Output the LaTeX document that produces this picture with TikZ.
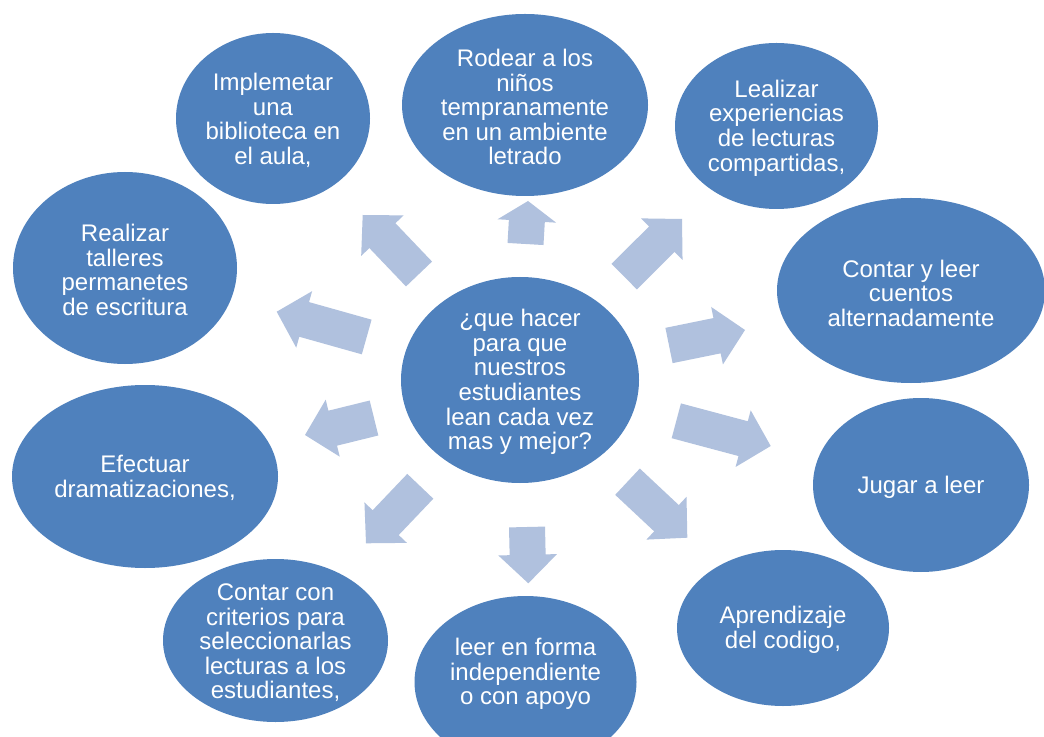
\documentclass[tikz,border=0pt]{standalone}
\usepackage{fontspec}
\setmainfont{Liberation Sans}
\usetikzlibrary{calc,shapes.geometric}
\definecolor{bubc}{HTML}{4F81BD}
\definecolor{arrc}{HTML}{B0C1DE}
\tikzset{
  bub/.style={ellipse, fill=bubc, draw=none, inner sep=0pt},
  sz/.style 2 args={minimum width={#1*1.5pt}, minimum height={#2*1.5pt}},
  txt/.style={text=white, align=center, font=\fontsize{18}{18.4}\selectfont, inner sep=0pt, yshift=-1.5pt},
}
\newcommand\blockarr[4]{% name, tail, tip, head length
  \coordinate (#1-t) at (#2);
  \coordinate (#1-h) at (#3);
  \coordinate (#1-b) at ($(#1-h)!#4!(#1-t)$);
  \fill[arrc] ($(#1-t)!13.5pt!90:(#1-h)$) -- ($(#1-b)!13.5pt!90:(#1-h)$)
    -- ($(#1-b)!22pt!90:(#1-h)$) -- (#1-h) -- ($(#1-b)!22pt!-90:(#1-h)$)
    -- ($(#1-b)!13.5pt!-90:(#1-h)$) -- ($(#1-t)!13.5pt!-90:(#1-h)$) -- cycle;
}
\begin{document}
\begin{tikzpicture}[x=0.75pt, y=-0.75pt]
\clip (0,0) rectangle (1044,737);
\fill[white] (0,0) rectangle (1044,737);

% block arrows
\blockarr{a1}{525.5,244}{528,201}{15pt}
\blockarr{a2}{624.2,276.7}{682,219}{21.4pt}
\blockarr{a3}{669,345.5}{745,330}{21.4pt}
\blockarr{a4}{676.3,420.8}{770.7,446}{21.4pt}
\blockarr{a5}{627.5,481.7}{687.3,537.7}{21.4pt}
\blockarr{a6}{527,527}{528.3,583.3}{21.4pt}
\blockarr{a7}{420.3,486.3}{366,543.3}{21.4pt}
\blockarr{a8}{374,418}{305,435}{21.4pt}
\blockarr{a9}{366.7,337}{276.7,311.7}{21.4pt}
\blockarr{a10}{419,274}{362.7,215}{21.4pt}

% ellipses
\node[bub, sz={119}{103}] (c) at (520,380) {};
\node[bub, sz={97}{85.5}] (imp) at (273,118.5) {};
\node[bub, sz={112}{96}] (tal) at (125,268) {};
\node[bub, sz={123}{91}] (rod) at (525,105) {};
\node[bub, sz={101.5}{83}] (lea) at (776.5,126) {};
\node[bub, sz={134}{92.5}] (cue) at (911,290.5) {};
\node[bub, sz={108}{87}] (jug) at (921,485) {};
\node[bub, sz={106}{78}] (apr) at (783,628) {};
\node[bub, sz={111}{86}] (lee) at (525.5,682) {};
\node[bub, sz={112.5}{81.5}] (cri) at (275.5,640.5) {};
\node[bub, sz={133}{91.5}] (efe) at (145,476.5) {};

% texts
\node[txt] (tc) at (520,380) {¿que hacer\\para que\\nuestros\\estudiantes\\lean cada vez\\mas y mejor?};
\node[txt] (timp) at (273,118.5) {Implemetar\\una\\biblioteca en\\el aula,};
\node[txt] (ttal) at (125,268) {Realizar\\talleres\\permanetes\\de escritura};
\node[txt] (trod) at (525,105) {Rodear a los\\niños\\tempranamente\\en un ambiente\\letrado};
\node[txt] (tlea) at (776.5,126) {Lealizar\\experiencias\\de lecturas\\compartidas,};
\node[txt] (tcue) at (911,291) {Contar y leer\\cuentos\\alternadamente};
\node[txt] (tjug) at (921,485) {Jugar a leer};
\node[txt] (tapr) at (783,628) {Aprendizaje\\del codigo,};
\node[txt] (tlee) at (525.5,672) {leer en forma\\independiente\\o con apoyo};
\node[txt] (tcri) at (275.5,641) {Contar con\\criterios para\\seleccionarlas\\lecturas a los\\estudiantes,};
\node[txt] (tefe) at (145,476) {Efectuar\\dramatizaciones,};
\end{tikzpicture}
\end{document}
